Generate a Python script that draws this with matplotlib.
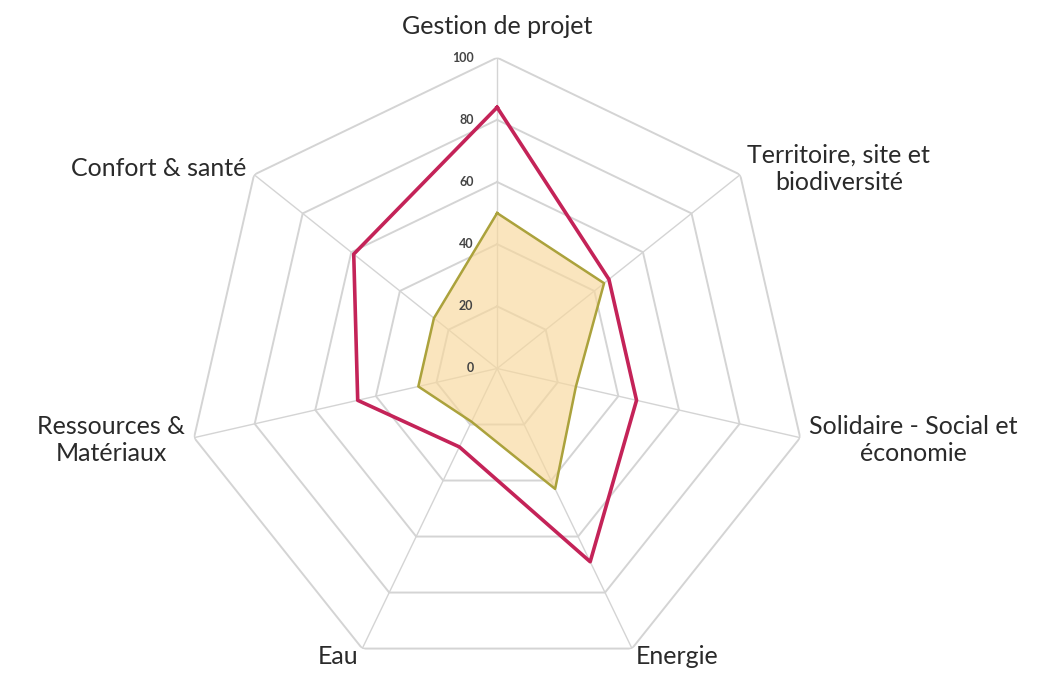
import numpy as np
import matplotlib.pyplot as plt

plt.rcParams['font.family'] = ['Lato', 'DejaVu Sans']

categories = ['Gestion de projet', 'Territoire, site et\nbiodiversité',
              'Solidaire - Social et\néconomie', 'Energie', 'Eau',
              'Ressources &\nMatériaux', 'Confort & santé']
objectif = [84, 46, 46, 69, 28, 46, 59]
projet = [50, 44, 26, 43, 19, 26, 26]
ticks = [0, 20, 40, 60, 80, 100]

n = len(categories)
angles = np.linspace(0, 2 * np.pi, n, endpoint=False)
closed = np.append(angles, angles[0])

fig = plt.figure(figsize=(10.4, 6.78), dpi=100)
ax = fig.add_axes([0.179, -0.002, 0.598, 0.917], projection='polar')
ax.set_theta_offset(np.pi / 2)
ax.set_theta_direction(-1)
ax.set_ylim(0, 100)
ax.grid(False)
ax.spines['polar'].set_visible(False)
ax.set_xticks([])
ax.set_yticks([])

grid_col = '#d4d4d4'
# heptagon rings + spokes
for t in ticks[1:]:
    ax.plot(closed, [t] * (n + 1), color=grid_col, lw=1.4, zorder=1)
for a in angles:
    ax.plot([a, a], [0, 100], color=grid_col, lw=1.0, zorder=1)

for t in ticks:
    ax.annotate(str(t), xy=(0, t), xytext=(-17, 0), textcoords='offset points',
                ha='right', va='center', fontsize=9, fontweight='bold',
                color='#444444', zorder=5)

def close(v):
    return v + v[:1]

ax.fill(closed, close(projet), color='#f8d89c', alpha=0.65, zorder=2)
ax.plot(closed, close(projet), color='#aba23c', lw=1.8, zorder=3)
ax.plot(closed, close(objectif), color='#c42358', lw=2.6, zorder=4)

# category labels around the outer ring
align = ['center', 'left', 'left', 'left', 'right', 'right', 'right']
for a, lab, ha in zip(angles, categories, align):
    r = 110 if ha == 'center' else 103
    ax.text(a, r, lab, ha=ha, va='center', multialignment='center',
            fontsize=18, color='#2a2a2a', linespacing=1.2)

fig.savefig('out.png', dpi=100)
plt.close(fig)
